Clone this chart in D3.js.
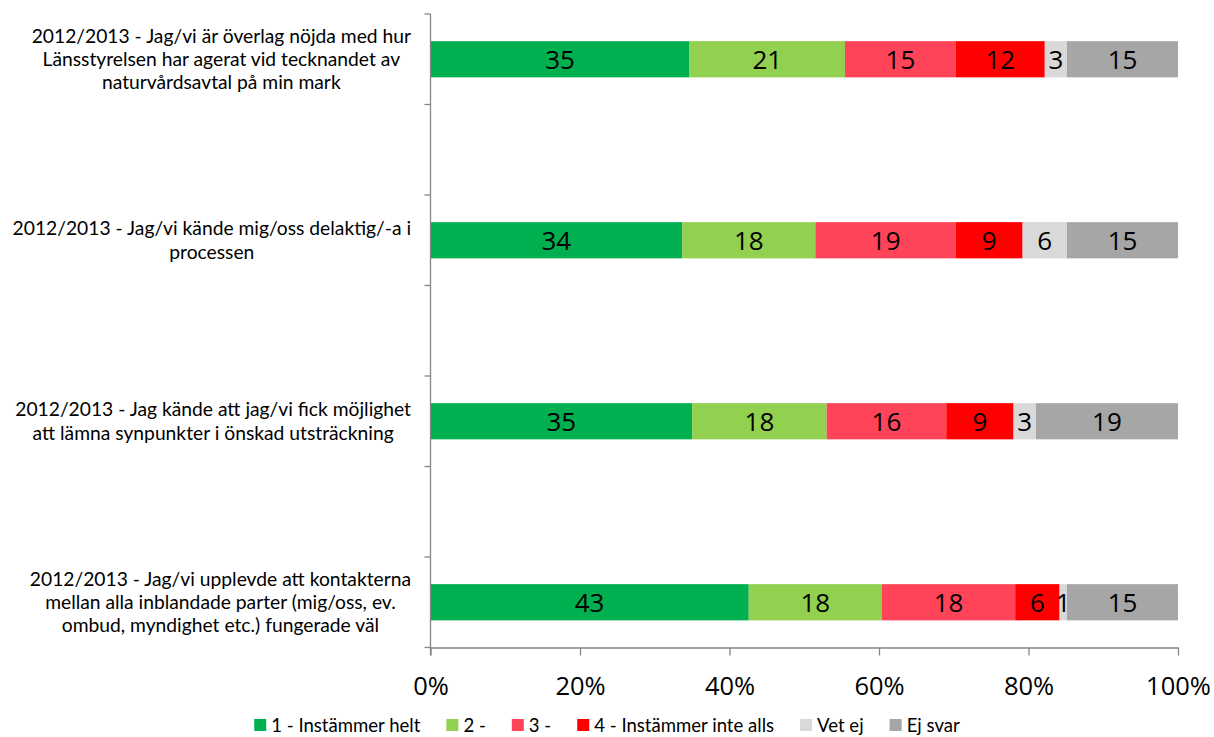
<!DOCTYPE html>
<html>
<head>
<meta charset="utf-8">
<script src="https://cdn.jsdelivr.net/npm/d3@7"></script>
<style>
  html, body { margin: 0; padding: 0; background: #fff; }
  svg { display: block; font-family: "Open Sans", "DejaVu Sans", sans-serif; }
</style>
</head>
<body>
<svg id="chart" width="1214" height="737"></svg>
<script>
// ---- data (counts per answer; bars are 100% stacked) ----
const categories = [
  ["2012/2013 - Jag/vi är överlag nöjda med hur", "Länsstyrelsen har agerat vid tecknandet av", "naturvårdsavtal på min mark"],
  ["2012/2013 - Jag/vi kände mig/oss delaktig/-a i", "processen"],
  ["2012/2013 - Jag kände att jag/vi fick möjlighet", "att lämna synpunkter i önskad utsträckning"],
  ["2012/2013 - Jag/vi upplevde att kontakterna", "mellan alla inblandade parter (mig/oss, ev.", "ombud, myndighet etc.) fungerade väl"]
];
const seriesNames = ["1 - Instämmer helt", "2 -", "3 -", "4 - Instämmer inte alls", "Vet ej", "Ej svar"];
const seriesColors = ["#00B050", "#92D050", "#FF4359", "#FF0000", "#D9D9D9", "#A6A6A6"];
const instammerHelt   = [35, 34, 35, 43];
const two             = [21, 18, 18, 18];
const three           = [15, 19, 16, 18];
const instammerInte   = [12,  9,  9,  6];
const vetEj           = [ 3,  6,  3,  1];
const ejSvar          = [15, 15, 19, 15];
const xTicks = [0, 0.2, 0.4, 0.6, 0.8, 1.0];

const seriesValues = [instammerHelt, two, three, instammerInte, vetEj, ejSvar];

// ---- layout ----
const svg = d3.select("#chart");
const plot = { left: 430.5, right: 1178, top: 14, bottom: 647.5 };
const axisColor = "#868686";
const textFont = "Lato, \"Open Sans\", sans-serif";

const x = d3.scaleLinear().domain([0, 1]).range([plot.left, plot.right]);
const yIdx = d3.range(categories.length);
const y = d3.scalePoint().domain(yIdx).range([plot.top, plot.bottom]).padding(0.25);
const step = y.step();
const barH = step * 0.2;

// stacked rows
const rows = yIdx.map(i => {
  const vals = seriesValues.map(s => s[i]);
  const total = d3.sum(vals);
  let acc = 0;
  return vals.map((v, k) => {
    const seg = { row: i, k, v, x0: acc / total, x1: (acc + v) / total };
    acc += v;
    return seg;
  });
});

const gBars = svg.append("g");
rows.forEach(segs => {
  gBars.selectAll(null).data(segs).enter().append("rect")
    .attr("x", d => x(d.x0))
    .attr("width", d => x(d.x1) - x(d.x0))
    .attr("y", d => y(d.row) - barH / 2)
    .attr("height", barH)
    .attr("fill", d => seriesColors[d.k]);
});
rows.forEach(segs => {
  gBars.selectAll(null).data(segs).enter().append("text")
    .attr("x", d => (x(d.x0) + x(d.x1)) / 2)
    .attr("y", d => y(d.row))
    .attr("dy", "0.36em")
    .attr("text-anchor", "middle")
    .attr("font-size", 26)
    .attr("fill", "#000")
    .text(d => d.v);
});

// y axis line and tick marks at half-steps
const gY = svg.append("g");
gY.append("line")
  .attr("x1", plot.left).attr("x2", plot.left)
  .attr("y1", plot.top).attr("y2", plot.bottom + 8)
  .attr("stroke", axisColor).attr("stroke-width", 1.3);
const yTickPos = d3.range(0, 2 * categories.length + 1).map(j => plot.top + j * step / 2);
gY.selectAll(null).data(yTickPos).enter().append("line")
  .attr("x1", plot.left - 6).attr("x2", plot.left)
  .attr("y1", d => d).attr("y2", d => d)
  .attr("stroke", axisColor).attr("stroke-width", 1.3);

// x axis
const xAxis = d3.axisBottom(x).tickValues(xTicks).tickFormat(d3.format(".0%"))
  .tickSizeInner(8).tickSizeOuter(0).tickPadding(21);
const gX = svg.append("g").attr("transform", `translate(0,${plot.bottom})`).call(xAxis);
gX.select(".domain").attr("stroke", axisColor).attr("stroke-width", 1.3);
gX.selectAll(".tick line").attr("stroke", axisColor).attr("stroke-width", 1.3);
gX.selectAll(".tick text").attr("font-size", 25.5).attr("fill", "#000")
  .attr("font-family", "\"Open Sans\", sans-serif");

// category labels (centered block, right edge at 411)
const labelRight = 411;
const lineH = 23.3;
// fit font so the first label's widest line is ~383px, capped by line height
const probe = svg.append("text").attr("font-family", textFont).attr("font-size", 20).text(categories[0][0]);
const probeW = probe.node().getComputedTextLength();
probe.remove();
const labelFont = Math.min(20 * 383 / probeW, lineH / 1.21);
categories.forEach((lines, i) => {
  const g = svg.append("g");
  const texts = lines.map((ln, j) => g.append("text")
    .attr("font-family", textFont)
    .attr("font-size", labelFont)
    .attr("fill", "#000")
    .attr("text-anchor", "middle")
    .attr("y", y(i) + (j - (lines.length - 1) / 2) * lineH)
    .attr("dy", "0.35em")
    .text(ln));
  const maxW = d3.max(texts, t => t.node().getComputedTextLength());
  texts.forEach(t => t.attr("x", labelRight - maxW / 2));
});

// legend
const legendY = 725;
const gap = 26;
const gL = svg.append("g");
const items = seriesNames.map((name, k) => {
  const g = gL.append("g");
  g.append("rect").attr("x", 0).attr("y", -6).attr("width", 12).attr("height", 12).attr("fill", seriesColors[k]);
  const t = g.append("text").attr("x", 17).attr("y", 0).attr("dy", "0.35em")
    .attr("font-family", textFont)
    .attr("font-size", 18).attr("fill", "#000").text(name);
  return { g, t };
});
const textSum = d3.sum(items, d => d.t.node().getComputedTextLength());
const targetText = 706 - items.length * 17 - gap * (items.length - 1);
const legendFont = 18 * targetText / textSum;
items.forEach(it => { it.t.attr("font-size", legendFont); it.w = 17 + it.t.node().getComputedTextLength(); });
const totalW = d3.sum(items, d => d.w) + gap * (items.length - 1);
let cx = 1214 / 2 - totalW / 2;
items.forEach(it => {
  it.g.attr("transform", `translate(${cx},${legendY})`);
  cx += it.w + gap;
});
</script>
</body>
</html>
